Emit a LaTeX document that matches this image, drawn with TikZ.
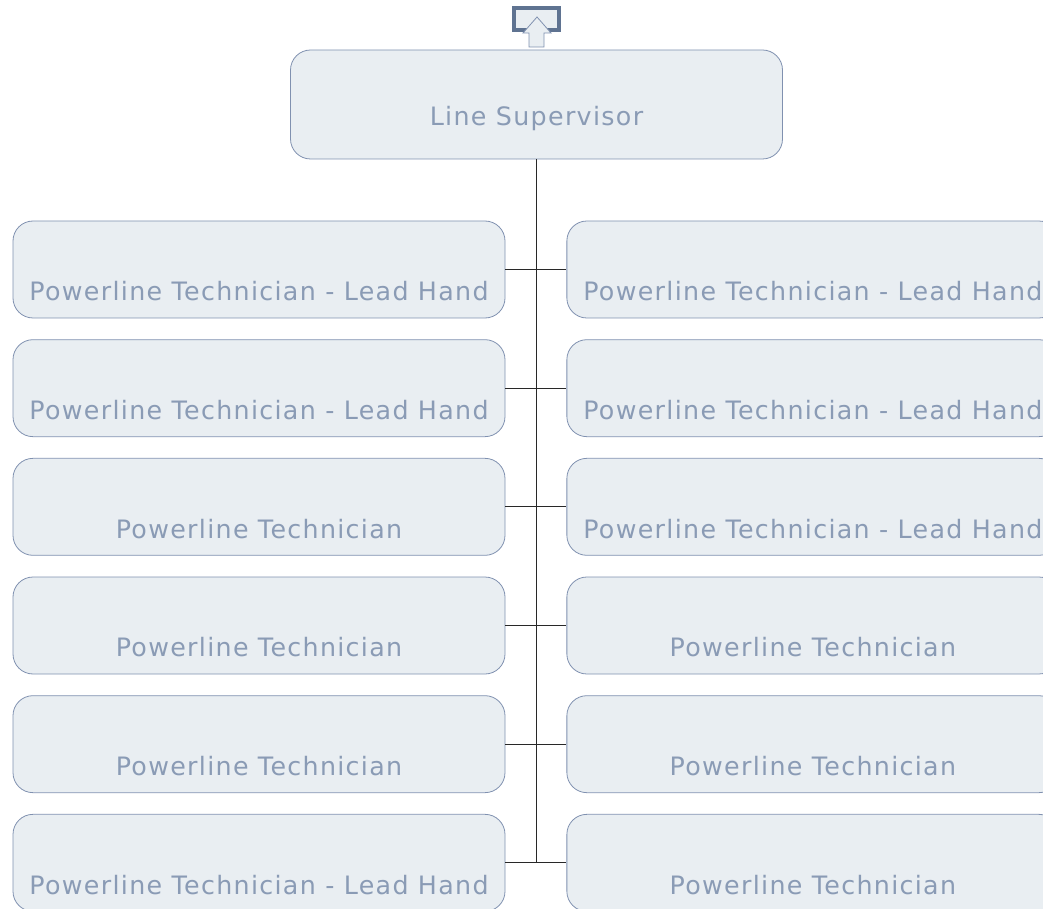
\documentclass[tikz,border=0pt]{standalone}
\usepackage{fontspec}
\setmainfont[LetterSpace=5.2]{DejaVu Sans}
\usetikzlibrary{positioning}
\definecolor{boxfill}{RGB}{233,238,242}
\definecolor{boxline}{RGB}{128,145,176}
\definecolor{boxtext}{RGB}{138,155,181}
\definecolor{iconline}{RGB}{95,115,145}
\definecolor{linkgray}{RGB}{40,40,40}

\begin{document}
\begin{tikzpicture}[
  x=0.75pt, y=-0.75pt,
  node distance=15.65pt and 45.8pt,
  rolebox/.style={rectangle, rounded corners=15pt, draw=boxline, fill=boxfill, text=boxtext,
    minimum width=369pt, minimum height=72.75pt, font=\fontsize{19}{22}\selectfont,
    text height=51.2pt, text depth=4pt, line width=0.6pt},
  topbox/.style={rolebox, minimum height=81.75pt, text height=36.2pt, text depth=4pt},
  link/.style={draw=linkgray, line width=0.75pt}
]
\useasboundingbox (0,0) rectangle (1043,909);
\clip (0,0) rectangle (1043,909);

% up icon above the supervisor
\draw[iconline, line width=3pt, fill=boxfill] (514,8) rectangle (559,30);
\draw[boxline, fill=boxfill, line width=0.6pt] (537,17) -- (551,33) -- (544,33) -- (544,47)
  -- (529,47) -- (529,33) -- (523,33) -- cycle;

\node[topbox] (sup) at (536.5,104.5) {Line Supervisor};

\node[rolebox] (l1) at (259,269.5) {Powerline Technician - Lead Hand};
\node[rolebox, below=of l1] (l2) {Powerline Technician - Lead Hand};
\node[rolebox, below=of l2] (l3) {Powerline Technician};
\node[rolebox, below=of l3] (l4) {Powerline Technician};
\node[rolebox, below=of l4] (l5) {Powerline Technician};
\node[rolebox, below=of l5] (l6) {Powerline Technician - Lead Hand};

\node[rolebox, right=of l1] (r1) {Powerline Technician - Lead Hand};
\node[rolebox, right=of l2] (r2) {Powerline Technician - Lead Hand};
\node[rolebox, right=of l3] (r3) {Powerline Technician - Lead Hand};
\node[rolebox, right=of l4] (r4) {Powerline Technician};
\node[rolebox, right=of l5] (r5) {Powerline Technician};
\node[rolebox, right=of l6] (r6) {Powerline Technician};

\draw[link] (sup.south) -- (sup.south |- l6.east);
\draw[link] (l1.east) -- (r1.west);
\draw[link] (l2.east) -- (r2.west);
\draw[link] (l3.east) -- (r3.west);
\draw[link] (l4.east) -- (r4.west);
\draw[link] (l5.east) -- (r5.west);
\draw[link] (l6.east) -- (r6.west);
\end{tikzpicture}
\end{document}
